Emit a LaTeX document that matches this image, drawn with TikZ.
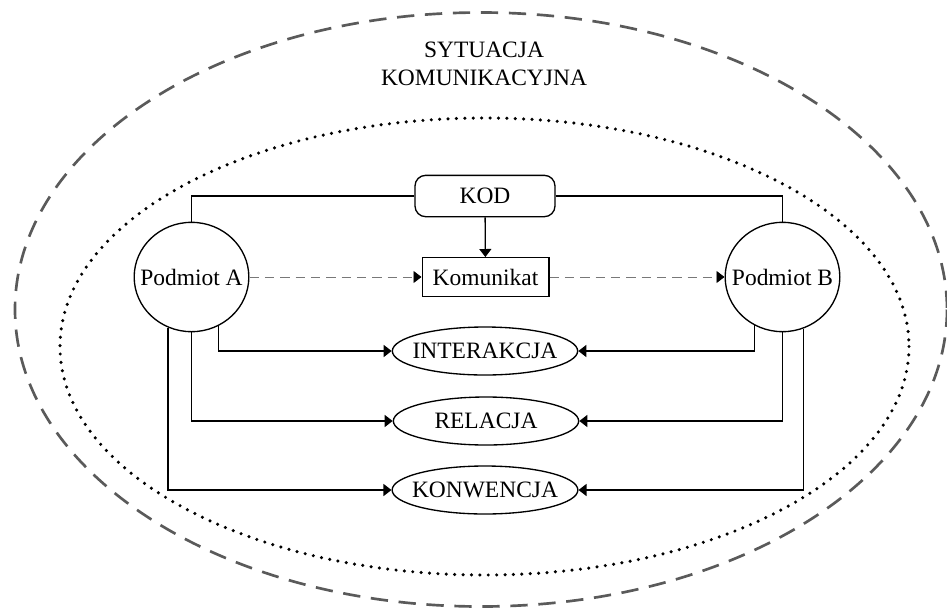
\documentclass[tikz,border=0pt]{standalone}
\usepackage{fontspec}
\setmainfont{Liberation Serif}
\usetikzlibrary{arrows.meta,shapes.geometric}
\definecolor{ramka}{RGB}{90,90,90}
\definecolor{przerywana}{RGB}{120,120,120}

\begin{document}
\begin{tikzpicture}[x=0.75pt,y=-0.75pt,line width=1pt,
        >={Triangle[length=6pt,width=9pt]},
        font=\fontsize{17.6}{21}\selectfont,
        podmiot/.style={draw, ellipse, minimum width=86pt, minimum height=82pt, inner xsep=-9pt, inner ysep=0pt},
        pojecie/.style={draw, ellipse, minimum width=139pt, minimum height=36pt, inner xsep=-5.5pt, inner ysep=0pt},
        przekaz/.style={-{Triangle[length=6pt,width=9pt,color=black]}, przerywana, dash pattern=on 7pt off 4.5pt, line width=0.7pt}]
        \useasboundingbox (0,0) rectangle (947,608);
        % obszary
        \draw[ramka, line width=2pt, dash pattern=on 13pt off 8pt] (481,309.5) ellipse [x radius=466, y radius=297];
        \draw[line width=2.6pt, line cap=round, dash pattern=on 0pt off 6.3pt] (484.5,346.5) ellipse [x radius=424.5, y radius=228.5];
        \node (tytul) [align=center] at (484,64) {SYTUACJA\\KOMUNIKACYJNA};
        % wezly
        \node (kod) [draw, rounded corners=8pt, minimum width=105pt, minimum height=31pt] at (485,196) {KOD};
        \node (kom) [draw, minimum width=95pt, minimum height=29pt, inner sep=2pt] at (485.5,277) {Komunikat};
        \node (A) [podmiot] at (191.5,277) {Podmiot A};
        \node (B) [podmiot] at (782.5,277) {Podmiot B};
        \node (int) [pojecie] at (485,351) {INTERAKCJA};
        \node (rel) [pojecie] at (486,421) {RELACJA};
        \node (konw) [pojecie] at (485,490) {KONWENCJA};
        % polaczenia
        \draw (kod.west) -| (A.north);
        \draw (kod.east) -| (B.north);
        \draw[->] (kod) -- (kom);
        \draw[przekaz] (A) -- (kom);
        \draw[przekaz] (kom) -- (B);
        \draw[->] (A.-61) |- (int.west);
        \draw[->] (A.south) |- (rel.west);
        \draw[->] (A.-115) |- (konw.west);
        \draw[->] (B.-120) |- (int.east);
        \draw[->] (B.south) |- (rel.east);
        \draw[->] (B.-68) |- (konw.east);
    \end{tikzpicture}
\end{document}
